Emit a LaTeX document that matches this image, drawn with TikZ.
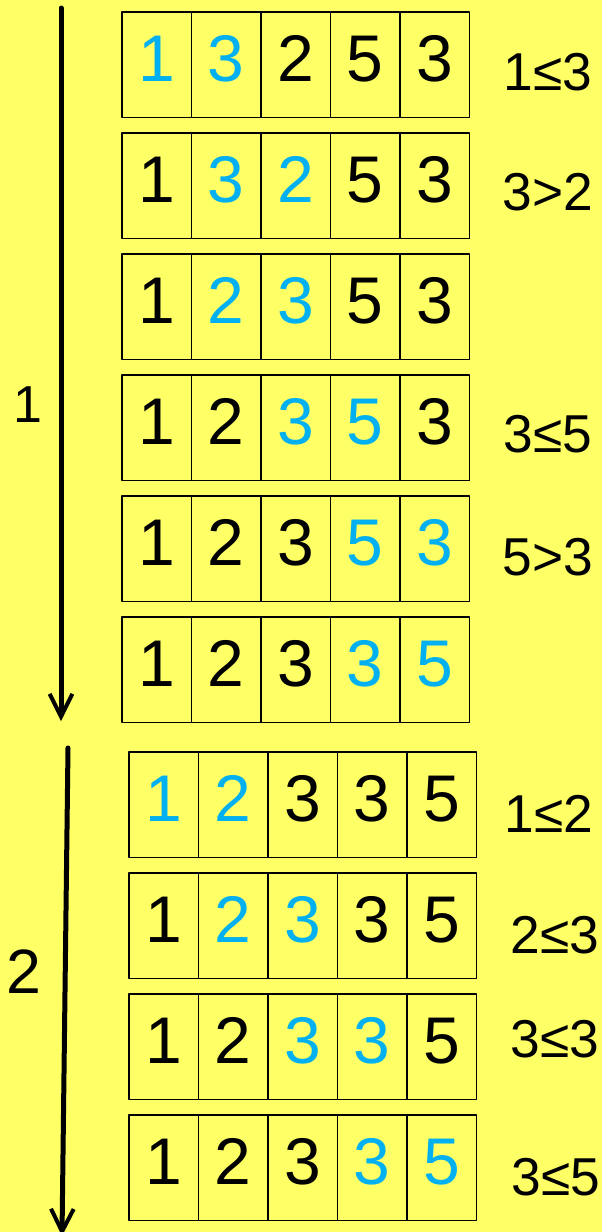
\documentclass[tikz,border=0pt]{standalone}
\usepackage{fontspec}
\setmainfont{Liberation Sans}
\usepackage{tikz}
\usetikzlibrary{arrows.meta}
\definecolor{bgyellow}{HTML}{FFFF66}
\definecolor{hl}{HTML}{00B0F0}
\tikzset{
  every picture/.style={line join=round, line cap=round},
  cell/.style={draw=black, line width=1.4pt, rectangle, inner sep=0pt, outer sep=0pt,
    minimum width=52.125pt, minimum height=79.125pt,
    text height=35.4pt, text depth=10.9pt,
    font=\fontsize{49.5pt}{50pt}\selectfont},
  cmp/.style={anchor=base, inner sep=0pt, font=\fontsize{40pt}{41pt}\selectfont},
  passlabel/.style={anchor=base, inner sep=0pt},
  passarrow/.style={line width=3.75pt, -{Straight Barb[length=17pt, width=17pt, line width=3pt]}},
}

\begin{document}
\begin{tikzpicture}[x=0.75pt, y=-0.75pt]
\useasboundingbox (0,0) rectangle (602,1232);
\fill[bgyellow] (0,0) rectangle (602,1232);
% pass 1
\foreach \i/\d/\c in {1/1/hl,2/3/hl,3/2/black,4/5/black,5/3/black}
  \node[cell,text=\c] (p1r1c\i) at ({122+(\i-0.5)*69.5},64.75) {\d};
\foreach \i/\d/\c in {1/1/black,2/3/hl,3/2/hl,4/5/black,5/3/black}
  \node[cell,text=\c] (p1r2c\i) at ({122+(\i-0.5)*69.5},185.75) {\d};
\foreach \i/\d/\c in {1/1/black,2/2/hl,3/3/hl,4/5/black,5/3/black}
  \node[cell,text=\c] (p1r3c\i) at ({122+(\i-0.5)*69.5},306.75) {\d};
\foreach \i/\d/\c in {1/1/black,2/2/black,3/3/hl,4/5/hl,5/3/black}
  \node[cell,text=\c] (p1r4c\i) at ({122+(\i-0.5)*69.5},427.75) {\d};
\foreach \i/\d/\c in {1/1/black,2/2/black,3/3/black,4/5/hl,5/3/hl}
  \node[cell,text=\c] (p1r5c\i) at ({122+(\i-0.5)*69.5},548.75) {\d};
\foreach \i/\d/\c in {1/1/black,2/2/black,3/3/black,4/3/hl,5/5/hl}
  \node[cell,text=\c] (p1r6c\i) at ({122+(\i-0.5)*69.5},669.75) {\d};
% pass 2
\foreach \i/\d/\c in {1/1/hl,2/2/hl,3/3/black,4/3/black,5/5/black}
  \node[cell,text=\c] (p2r1c\i) at ({129+(\i-0.5)*69.5},804.75) {\d};
\foreach \i/\d/\c in {1/1/black,2/2/hl,3/3/hl,4/3/black,5/5/black}
  \node[cell,text=\c] (p2r2c\i) at ({129+(\i-0.5)*69.5},925.75) {\d};
\foreach \i/\d/\c in {1/1/black,2/2/black,3/3/hl,4/3/hl,5/5/black}
  \node[cell,text=\c] (p2r3c\i) at ({129+(\i-0.5)*69.5},1046.75) {\d};
\foreach \i/\d/\c in {1/1/black,2/2/black,3/3/black,4/3/hl,5/5/hl}
  \node[cell,text=\c] (p2r4c\i) at ({129+(\i-0.5)*69.5},1167.75) {\d};
% comparisons
\node[cmp] (cmp11) at (548,90) {1≤3};
\node[cmp] (cmp12) at (548,210) {3>2};
\node[cmp] (cmp14) at (548,452) {3≤5};
\node[cmp] (cmp15) at (548,575) {5>3};
\node[cmp] (cmp21) at (549,832) {1≤2};
\node[cmp] (cmp22) at (555,953) {2≤3};
\node[cmp] (cmp23) at (555,1057) {3≤3};
\node[cmp] (cmp24) at (556,1195) {3≤5};
% pass arrows
\coordinate (a1top) at (61,8);
\coordinate (a1tip) at (61,721);
\coordinate (a2top) at (68,748);
\coordinate (a2tip) at (62,1236);
\draw[passarrow] (a1top) -- (a1tip);
\draw[passarrow] (a2top) -- (a2tip);
\node[passlabel,font=\fontsize{39pt}{40pt}\selectfont] (pass1) at (28,422) {1};
\node[passlabel,font=\fontsize{47pt}{48pt}\selectfont] (pass2) at (24,993) {2};
\end{tikzpicture}
\end{document}
